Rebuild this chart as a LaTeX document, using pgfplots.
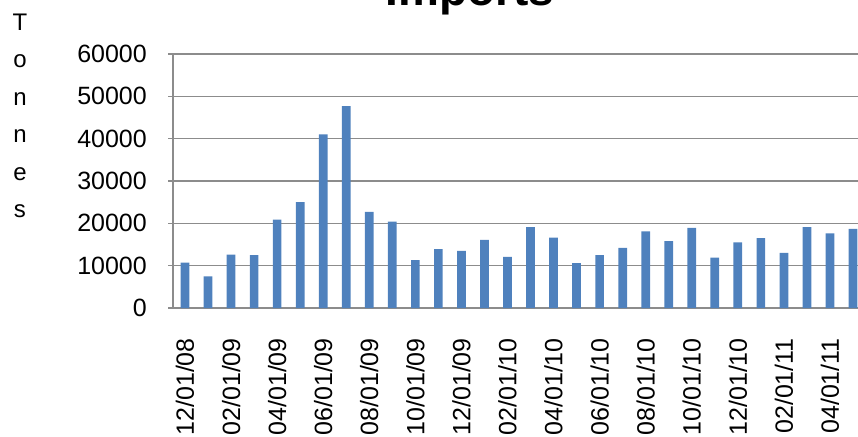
\documentclass[border=0pt]{standalone}
\usepackage{pgfplots}
\pgfplotsset{compat=1.18}
\usepackage{fontspec}
\setmainfont{Liberation Sans}
\definecolor{barblue}{HTML}{4F81BD}
\definecolor{gridgray}{HTML}{8C8C8C}

\begin{document}
\begin{tikzpicture}
\path[use as bounding box] (0,0) rectangle (858pt,436pt);
\clip (0,0) rectangle (858pt,436pt);
\begin{axis}[
  at={(173pt,128pt)}, anchor=south west,
  scale only axis, width=685pt, height=254pt,
  ybar, bar width=8.7pt, bar shift=0pt,
  xmin=-0.521, xmax=29.217,
  ymin=0, ymax=60000,
  ytick={0,10000,...,60000},
  xtick={0,2,...,28},
  xticklabels={12/01/08,02/01/09,04/01/09,06/01/09,08/01/09,10/01/09,12/01/09,
    02/01/10,04/01/10,06/01/10,08/01/10,10/01/10,12/01/10,02/01/11,04/01/11},
  axis x line*=bottom, axis y line*=left,
  axis line style={gridgray, line width=1.2pt, -},
  ymajorgrids, grid style={gridgray, line width=1.2pt},
  tick align=outside, major tick length=5pt,
  ytick style={gridgray, line width=1.2pt},
  xtick style={draw=none},
  scaled y ticks=false,
  /pgf/number format/assume math mode=true,
  yticklabel={\pgfmathprintnumber[fixed,1000 sep={}]{\tick}},
  ticklabel style={font=\fontsize{25}{30}\selectfont},
  yticklabel style={anchor=east, inner sep=0pt, xshift=-21pt},
  xticklabel style={rotate=90, anchor=east, inner sep=0pt},
  xticklabel shift=25pt,
  title={\textbf{Imports}},
  title style={at={(axis description cs:0.4336,1.169)}, anchor=base,
    font=\fontsize{46}{50}\selectfont},
  ylabel={T\\o\\n\\n\\e\\s},
  ylabel style={at={(axis description cs:-0.2234,0.756)}, rotate=-90,
    anchor=center, align=center, font=\fontsize{24}{37.5}\selectfont},
]
\addplot[fill=barblue, draw=none] coordinates {
  (0,10700) (1,7500) (2,12600) (3,12500) (4,20900) (5,25000)
  (6,41000) (7,47700) (8,22700) (9,20400) (10,11300) (11,13900)
  (12,13500) (13,16100) (14,12100) (15,19100) (16,16600) (17,10600)
  (18,12500) (19,14200) (20,18100) (21,15800) (22,18900) (23,11900)
  (24,15500) (25,16500) (26,13000) (27,19100) (28,17600) (29,18700)
};
\end{axis}
\end{tikzpicture}
\end{document}
